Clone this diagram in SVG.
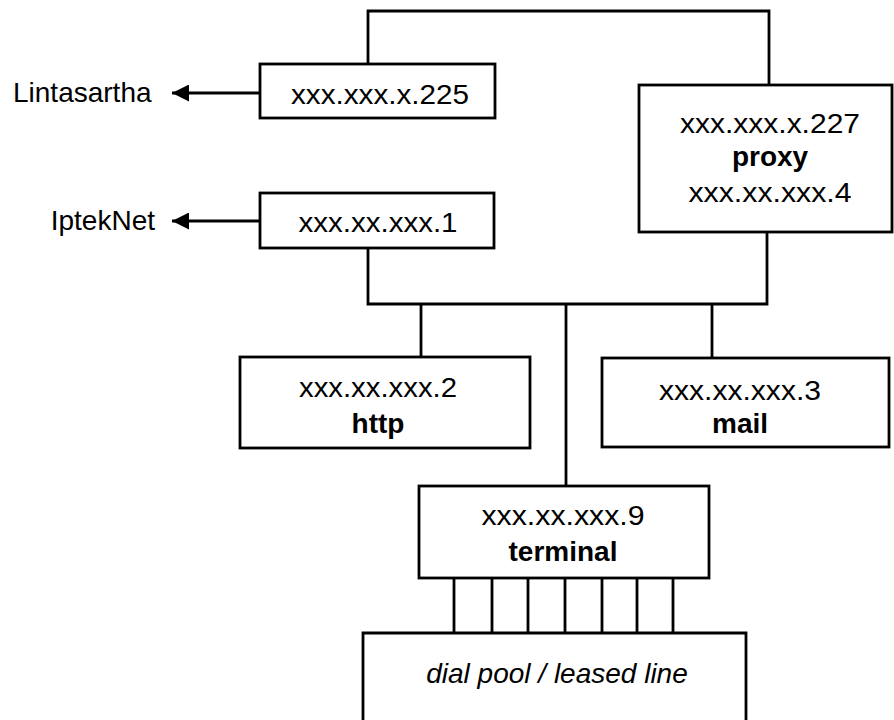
<svg xmlns="http://www.w3.org/2000/svg" width="894" height="720" viewBox="0 0 894 720">
<defs>
<style>
.box{fill:#fff;stroke:#000;stroke-width:2.8}
.ln{fill:none;stroke:#000;stroke-width:2.8}
text{font-family:"Liberation Sans",Arial,sans-serif;font-size:28px;fill:#000}
.c{text-anchor:middle}
.b{font-weight:bold}
.i{font-style:italic}
</style>
<marker id="ah" viewBox="0 0 10 10" refX="10" refY="5" markerWidth="21" markerHeight="17" markerUnits="userSpaceOnUse" orient="auto">
<path d="M0,0 L10,5 L0,10 Z" fill="#000"/>
</marker>
</defs>
<rect width="894" height="720" fill="#fff"/>
<g id="connectors">
<path class="ln" d="M368,64 V11 H769 V85"/>
<path class="ln" d="M368,248 V304 H767 V232"/>
<path class="ln" d="M421,304 V357"/>
<path class="ln" d="M712,304 V358"/>
<path class="ln" d="M566,304 V486"/>
<path class="ln" d="M454,578 V633 M492,578 V633 M528,578 V633 M565,578 V633 M602,578 V633 M637,578 V633 M673,578 V633"/>
<line class="ln" x1="260" y1="93" x2="172" y2="93" marker-end="url(#ah)"/>
<line class="ln" x1="260" y1="221" x2="172" y2="221" marker-end="url(#ah)"/>
</g>
<g id="lintasartha"><text x="13" y="102">Lintasartha</text></g>
<g id="ipteknet"><text x="155" y="230" text-anchor="end">IptekNet</text></g>
<g id="n225"><rect class="box" x="260" y="64" width="235" height="54"/><text class="c" x="380" y="104" textLength="178" lengthAdjust="spacingAndGlyphs">xxx.xxx.x.225</text></g>
<g id="n1"><rect class="box" x="260" y="193" width="234" height="55"/><text class="c" x="378" y="232" textLength="159" lengthAdjust="spacingAndGlyphs">xxx.xx.xxx.1</text></g>
<g id="proxy"><rect class="box" x="639" y="85" width="253" height="147"/>
<text class="c" x="770" y="133" textLength="180" lengthAdjust="spacingAndGlyphs">xxx.xxx.x.227</text>
<text class="c b" x="770" y="166">proxy</text>
<text class="c" x="770" y="202" textLength="163" lengthAdjust="spacingAndGlyphs">xxx.xx.xxx.4</text></g>
<g id="http"><rect class="box" x="240" y="357" width="290" height="91"/>
<text class="c" x="378" y="397" textLength="158" lengthAdjust="spacingAndGlyphs">xxx.xx.xxx.2</text>
<text class="c b" x="378" y="433">http</text></g>
<g id="mail"><rect class="box" x="602" y="358" width="287" height="89"/>
<text class="c" x="740" y="400" textLength="162" lengthAdjust="spacingAndGlyphs">xxx.xx.xxx.3</text>
<text class="c b" x="740" y="433">mail</text></g>
<g id="terminal"><rect class="box" x="419" y="486" width="290" height="92"/>
<text class="c" x="563" y="525" textLength="163" lengthAdjust="spacingAndGlyphs">xxx.xx.xxx.9</text>
<text class="c b" x="563" y="561">terminal</text></g>
<g id="dialpool"><path class="box" d="M363,724 V633 H746 V724"/>
<text class="c i" x="557" y="683">dial pool / leased line</text></g>
</svg>
